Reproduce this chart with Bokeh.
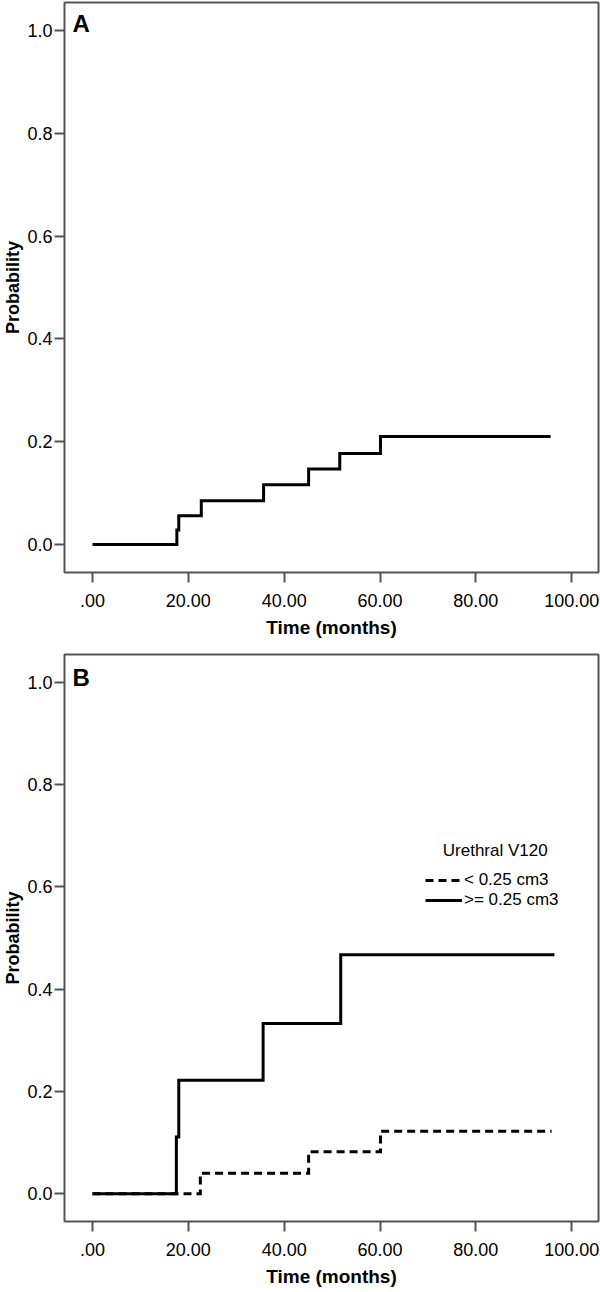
from bokeh.plotting import figure
from bokeh.layouts import column
from bokeh.models import Label, Legend, LegendItem, FixedTicker, Range1d
from bokeh.embed import file_html
from bokeh.resources import INLINE

# ---- data ----
# Panel A: overall cumulative probability
a_time = [0.0, 17.6, 18.0, 22.7, 35.7, 45.1, 51.6, 60.1, 95.6]
a_prob = [0.0, 0.028, 0.056, 0.085, 0.116, 0.147, 0.177, 0.210, 0.210]

# Panel B: Urethral V120 groups
low_time = [0.0, 22.5, 45.1, 60.1, 95.8]
low_prob = [0.0, 0.040, 0.082, 0.122, 0.122]
high_time = [0.0, 17.5, 18.0, 35.6, 51.8, 96.4]
high_prob = [0.0, 0.111, 0.222, 0.333, 0.467, 0.467]

x_ticks = [0, 20, 40, 60, 80, 100]
x_tick_labels = [".00", "20.00", "40.00", "60.00", "80.00", "100.00"]
y_ticks = [0.0, 0.2, 0.4, 0.6, 0.8, 1.0]
y_tick_labels = ["0.0", "0.2", "0.4", "0.6", "0.8", "1.0"]

legend_title = "Urethral V120"
legend_labels = ["< 0.25 cm3", ">= 0.25 cm3"]

FONT = "Liberation Sans"
FRAME = "#555555"


def make_fig(height, top, bottom, panel_letter, letter_y):
    p = figure(width=600, height=height, output_backend="svg", toolbar_location=None,
               x_range=Range1d(-5.85, 105.6), y_range=Range1d(-0.0545, 1.0545),
               min_border_left=64, min_border_right=2,
               min_border_top=top, min_border_bottom=bottom)
    p.xgrid.visible = False
    p.ygrid.visible = False
    p.outline_line_color = FRAME
    p.outline_line_width = 2
    p.background_fill_color = "white"
    p.border_fill_color = "white"

    for ax in (p.xaxis[0], p.yaxis[0]):
        ax.axis_line_color = None
        ax.major_tick_line_color = FRAME
        ax.major_tick_line_width = 2
        ax.major_tick_in = 0
        ax.major_tick_out = 10
        ax.minor_tick_line_color = None
        ax.major_label_text_font = FONT
        ax.major_label_text_font_size = "18px"
        ax.major_label_text_color = "black"
        ax.axis_label_text_font = FONT
        ax.axis_label_text_font_style = "bold"
        ax.axis_label_text_color = "black"

    p.xaxis.ticker = FixedTicker(ticks=x_ticks)
    p.xaxis.major_label_overrides = dict(zip(x_ticks, x_tick_labels))
    p.xaxis.axis_label = "Time (months)"
    p.xaxis.axis_label_text_font_size = "19px"
    p.xaxis.major_label_standoff = 11
    p.xaxis.axis_label_standoff = 7

    p.yaxis.ticker = FixedTicker(ticks=y_ticks)
    p.yaxis.major_label_overrides = dict(zip(y_ticks, y_tick_labels))
    p.yaxis.axis_label = "Probability"
    p.yaxis.axis_label_text_font_size = "18px"
    p.yaxis.major_label_standoff = 2
    p.yaxis.axis_label_standoff = 1

    p.add_layout(Label(x=-4.2, y=letter_y, text=panel_letter, text_font=FONT,
                       text_font_style="bold", text_font_size="24px",
                       text_color="black", text_baseline="top", text_align="left"))
    return p


pA = make_fig(648, 2, 76, "A", 1.04)
pA.step(a_time, a_prob, mode="after", line_color="black", line_width=3,
        line_join="miter")

pB = make_fig(643, 6, 70, "B", 1.035)
r_low = pB.step(low_time, low_prob, mode="after", line_color="black", line_width=3,
                line_dash="8 5", line_join="miter")
r_high = pB.step(high_time, high_prob, mode="after", line_color="black", line_width=3,
                 line_join="miter")

pB.add_layout(Label(x=73.1, y=0.671, text=legend_title, text_font=FONT,
                    text_font_size="17px", text_color="black",
                    text_baseline="middle", text_align="left"))
legend = Legend(items=[LegendItem(label=legend_labels[0], renderers=[r_low]),
                       LegendItem(label=legend_labels[1], renderers=[r_high])],
                location=(361, 311), padding=0, margin=0, spacing=0,
                border_line_color=None, background_fill_alpha=0,
                label_text_font=FONT, label_text_font_size="17px",
                label_text_color="black",
                glyph_width=37, glyph_height=20, label_height=20, label_standoff=2)
pB.add_layout(legend)

layout = column(pA, pB)
open("out.html", "w").write(file_html(layout, INLINE))
